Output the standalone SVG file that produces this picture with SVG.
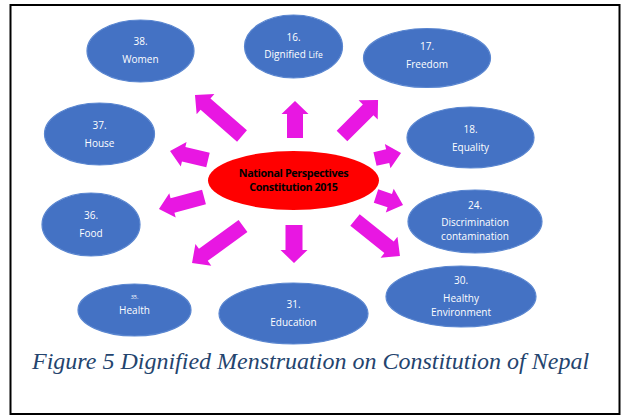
<svg xmlns="http://www.w3.org/2000/svg" width="628" height="418" viewBox="0 0 628 418">
<style>
.node ellipse{fill:#4472C4;stroke:#5A86D0;stroke-width:1.2}
.node text{font-family:"Open Sans","Liberation Sans",sans-serif;font-size:10px;fill:#FFFFFF;text-anchor:middle}
.arrow{fill:#E817E2}
.center text{font-family:"Open Sans","Liberation Sans",sans-serif;font-size:10.8px;font-weight:bold;fill:#000000;text-anchor:middle;letter-spacing:-0.4px}
.caption{font-family:"Liberation Serif","Times New Roman",serif;font-style:italic;font-size:24px;fill:#24446E}
</style>
<rect x="0" y="0" width="628" height="418" fill="#FFFFFF"/>
<rect x="10.5" y="5" width="609" height="409" fill="none" stroke="#000000" stroke-width="2"/>
<g id="connectors">
<polygon class="arrow" transform="translate(242,136) rotate(-138.9)" points="0,-7.5 48.4,-7.5 48.4,-13.5 62.4,0 48.4,13.5 48.4,7.5 0,7.5"/>
<polygon class="arrow" transform="translate(295,138) rotate(-90)" points="0,-8 24,-8 24,-13.5 37,0 24,13.5 24,8 0,8"/>
<polygon class="arrow" transform="translate(342,136) rotate(-45)" points="0,-7.5 37,-7.5 37,-13.5 51,0 37,13.5 37,7.5 0,7.5"/>
<polygon class="arrow" transform="translate(208,160) rotate(-166.7)" points="0,-7.5 25,-7.5 25,-12.5 39,0 25,12.5 25,7.5 0,7.5"/>
<polygon class="arrow" transform="translate(204,197) rotate(165.1)" points="0,-7.5 32.6,-7.5 32.6,-12.5 46.6,0 32.6,12.5 32.6,7.5 0,7.5"/>
<polygon class="arrow" transform="translate(375,159) rotate(-13)" points="0,-7 13,-7 13,-12.5 26.7,0 13,12.5 13,7 0,7"/>
<polygon class="arrow" transform="translate(376,196) rotate(18.4)" points="0,-7 14.5,-7 14.5,-12.5 28.5,0 14.5,12.5 14.5,7 0,7"/>
<polygon class="arrow" transform="translate(243,226) rotate(144)" points="0,-7.5 49,-7.5 49,-13.5 63,0 49,13.5 49,7.5 0,7.5"/>
<polygon class="arrow" transform="translate(294,225) rotate(90)" points="0,-8.5 25,-8.5 25,-13.5 38,0 25,13.5 25,8.5 0,8.5"/>
<polygon class="arrow" transform="translate(355,220) rotate(38.7)" points="0,-7.5 43.6,-7.5 43.6,-13.5 57.6,0 43.6,13.5 43.6,7.5 0,7.5"/>
</g>
<g id="center" class="center">
<ellipse cx="293.5" cy="180.5" rx="85.5" ry="29.5" fill="#FF0000"/>
<text x="293.5" y="177">National Perspectives</text>
<text x="293.5" y="191">Constitution 2015</text>
</g>
<g id="n38" class="node">
<ellipse cx="140.5" cy="51" rx="53.5" ry="31"/>
<text x="140.5" y="45">38.</text>
<text x="140.5" y="63">Women</text>
</g>
<g id="n16" class="node">
<ellipse cx="293.5" cy="46.5" rx="49" ry="31.5"/>
<text x="293.5" y="41">16.</text>
<text x="293.5" y="58">Dignified <tspan style="font-size:8.5px">Life</tspan></text>
</g>
<g id="n17" class="node">
<ellipse cx="427" cy="58" rx="63.5" ry="29.5"/>
<text x="427" y="50">17.</text>
<text x="427" y="68">Freedom</text>
</g>
<g id="n37" class="node">
<ellipse cx="99.5" cy="134" rx="55" ry="31"/>
<text x="99.5" y="129">37.</text>
<text x="99.5" y="147">House</text>
</g>
<g id="n18" class="node">
<ellipse cx="470.5" cy="137.5" rx="63.5" ry="30.5"/>
<text x="470.5" y="133">18.</text>
<text x="470.5" y="151">Equality</text>
</g>
<g id="n36" class="node">
<ellipse cx="91" cy="224.5" rx="49" ry="31.5"/>
<text x="91" y="219">36.</text>
<text x="91" y="237">Food</text>
</g>
<g id="n24" class="node">
<ellipse cx="475" cy="221.5" rx="67" ry="31.5"/>
<text x="475" y="209">24.</text>
<text x="475" y="226">Discrimination</text>
<text x="475" y="240">contamination</text>
</g>
<g id="n35" class="node">
<ellipse cx="134.5" cy="310" rx="56.5" ry="26"/>
<text x="134.5" y="299" style="font-size:5.5px">35.</text>
<text x="134.5" y="314">Health</text>
</g>
<g id="n31" class="node">
<ellipse cx="293.5" cy="313.5" rx="74.5" ry="30.5"/>
<text x="293.5" y="308">31.</text>
<text x="293.5" y="326">Education</text>
</g>
<g id="n30" class="node">
<ellipse cx="461" cy="296.5" rx="75" ry="30.5"/>
<text x="461" y="284">30.</text>
<text x="461" y="302">Healthy</text>
<text x="461" y="316">Environment</text>
</g>
<text class="caption" x="32" y="369">Figure 5 Dignified Menstruation on Constitution of Nepal</text>
</svg>
